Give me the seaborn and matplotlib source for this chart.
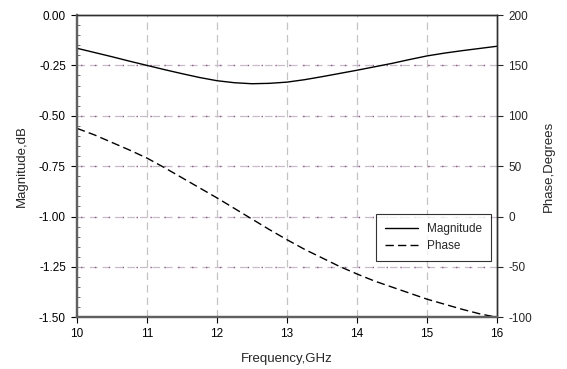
import numpy as np
import pandas as pd
import matplotlib
matplotlib.use("Agg")
import matplotlib.pyplot as plt
from matplotlib.ticker import AutoMinorLocator
import seaborn as sns

# Measured response, 10-16 GHz
freq_ghz = [10.0, 10.25, 10.5, 10.75, 11.0, 11.25, 11.5, 11.75, 12.0, 12.25, 12.5, 12.75,
            13.0, 13.25, 13.5, 13.75, 14.0, 14.25, 14.5, 14.75, 15.0, 15.25, 15.5, 15.75, 16.0]
magnitude_db = [-0.165, -0.186, -0.207, -0.229, -0.250, -0.271, -0.291, -0.310, -0.326,
                -0.336, -0.341, -0.339, -0.333, -0.321, -0.306, -0.290, -0.274, -0.257,
                -0.240, -0.221, -0.203, -0.189, -0.177, -0.166, -0.155]
phase_deg = [87.5, 81.0, 73.5, 66.0, 58.0, 48.5, 38.5, 28.5, 18.5, 8.0, -2.5, -13.0,
             -23.0, -32.5, -41.0, -49.5, -57.0, -64.0, -70.0, -76.0, -82.0, -87.0,
             -92.0, -96.5, -100.0]

x_ticks = [10, 11, 12, 13, 14, 15, 16]
mag_ticks = [0.00, -0.25, -0.50, -0.75, -1.00, -1.25, -1.50]
phase_ticks = [200, 150, 100, 50, 0, -50, -100]

df = pd.DataFrame({"freq": freq_ghz, "mag": magnitude_db, "phase": phase_deg})

sns.set_theme(style="white")
plt.rcParams["font.family"] = ["Liberation Sans", "DejaVu Sans"]
plt.rcParams["axes.unicode_minus"] = False

fig = plt.figure(figsize=(5.67, 3.69), dpi=100)
ax = fig.add_axes([0.1358, 0.1401, 0.7407, 0.8192])
ax2 = ax.twinx()

sns.lineplot(data=df, x="freq", y="mag", ax=ax, color="black", lw=1.0,
             label="Magnitude", legend=False)
sns.lineplot(data=df, x="freq", y="phase", ax=ax2, color="black", lw=1.0,
             linestyle=(0, (6, 3)), label="Phase", legend=False)

ax.set_xlim(10, 16)
ax.set_ylim(-1.5, 0.0)
ax2.set_ylim(-100, 200)
ax.set_xticks(x_ticks)
ax.set_yticks(mag_ticks)
ax.set_yticklabels([f"{v:.2f}" for v in mag_ticks])
ax2.set_yticks(phase_ticks)
ax.yaxis.set_minor_locator(AutoMinorLocator(5))

# grid: vertical grey dashes, horizontal grey dashes with purple dots in the gaps
for xv in x_ticks[1:-1]:
    ax.axvline(xv, color="#c4c4c4", lw=0.9, ls=(0, (6, 4)), zorder=0)
for yv in mag_ticks[1:-1]:
    ax.axhline(yv, color="#c8bcc8", lw=0.9, ls=(0, (6, 4)), zorder=0)
    ax.axhline(yv, color="#8a5a8a", lw=1.0, ls=(7.5, (1, 9)), zorder=0)

ax.set_xlabel("Frequency,GHz", fontsize=9.5, labelpad=9)
ax.set_ylabel("Magnitude,dB", fontsize=9.5, labelpad=8)
ax2.set_ylabel("Phase,Degrees", fontsize=9.5, labelpad=8)

ax.tick_params(axis="both", which="major", direction="out", length=4, width=0.8,
               colors="black", labelsize=8.5, pad=4, left=True, bottom=True)
ax.tick_params(axis="y", which="minor", direction="in", length=2, width=0.6,
               left=True, color="#555555")
ax2.tick_params(axis="y", which="major", direction="out", length=4, width=0.8,
                labelsize=8.5, pad=4, right=True)

for a in (ax, ax2):
    a.spines["left"].set_color("#606060")
    a.spines["left"].set_linewidth(1.6)
    a.spines["bottom"].set_color("#606060")
    a.spines["bottom"].set_linewidth(1.6)
    a.spines["top"].set_color("#303030")
    a.spines["top"].set_linewidth(1.0)
    a.spines["right"].set_color("#303030")
    a.spines["right"].set_linewidth(1.0)

handles = ax.get_lines()[:1] + ax2.get_lines()[:1]
leg = ax2.legend(handles, ["Magnitude", "Phase"], loc="upper left",
                 bbox_to_anchor=(0.712, 0.342), frameon=True, fancybox=False,
                 fontsize=8.5, handlelength=2.8, borderpad=0.75, labelspacing=0.45,
                 handletextpad=0.8, borderaxespad=0)
leg.get_frame().set_edgecolor("black")
leg.get_frame().set_linewidth(0.8)

fig.savefig("out.png", dpi=100)
